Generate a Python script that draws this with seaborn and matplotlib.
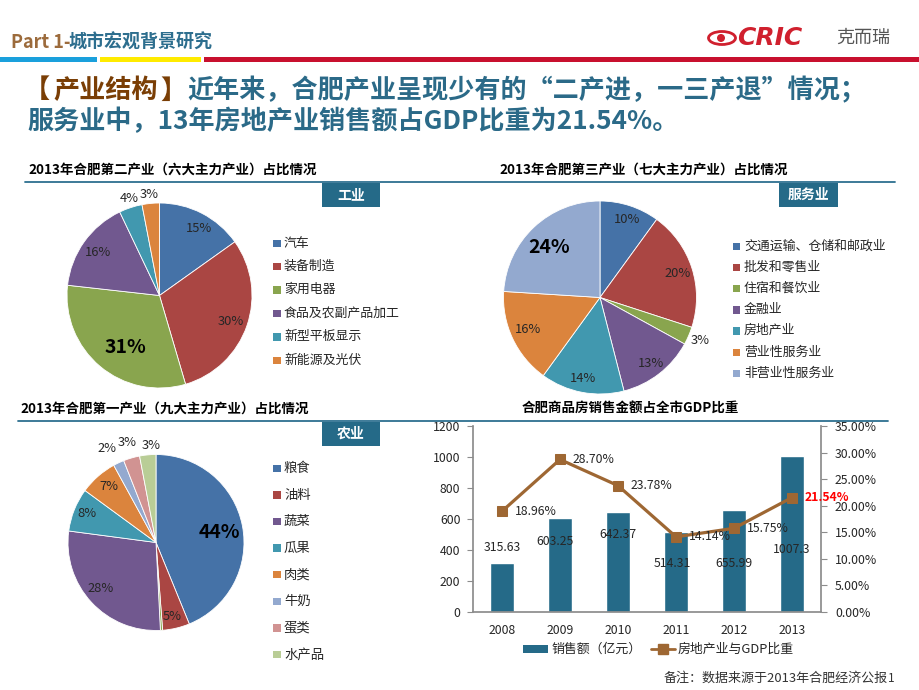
import matplotlib
matplotlib.use("Agg")
import matplotlib.pyplot as plt
from matplotlib.lines import Line2D
from matplotlib.patches import Ellipse, Rectangle
from matplotlib.ticker import PercentFormatter
import numpy as np
import pandas as pd
import seaborn as sns

W, H = 920, 690

# 第二产业（六大主力产业）
IND2_LABELS = ["汽车", "装备制造", "家用电器", "食品及农副产品加工", "新型平板显示", "新能源及光伏"]
IND2_VALUES = [15, 30, 31, 16, 4, 3]

# 第三产业（七大主力产业）
IND3_LABELS = ["交通运输、仓储和邮政业", "批发和零售业", "住宿和餐饮业", "金融业",
               "房地产业", "营业性服务业", "非营业性服务业"]
IND3_VALUES = [10, 20, 3, 13, 14, 16, 24]

# 第一产业 - the thin third slice has no legend entry and no label in the source
IND1_LABELS = ["粮食", "油料", "", "蔬菜", "瓜果", "肉类", "牛奶", "蛋类", "水产品"]
IND1_VALUES = [44, 5, 0.4, 28, 8, 7, 2, 3, 3]

# 合肥商品房销售金额占全市GDP比重
YEARS = ["2008", "2009", "2010", "2011", "2012", "2013"]
SALES = [315.63, 603.25, 642.37, 514.31, 655.99, 1007.3]
GDP_SHARE = [18.96, 28.70, 23.78, 14.14, 15.75, 21.54]

# label placement (pie radius units, relative to centre) - layout only
IND2_LABEL_POS = [(0.43, 0.72), (0.77, -0.28), (-0.37, -0.56), (-0.67, 0.46), (-0.33, 1.05), (-0.11, 1.09)]
IND3_LABEL_POS = [(0.28, 0.81), (0.80, 0.25), (1.04, -0.45), (0.53, -0.68), (-0.18, -0.84),
                  (-0.75, -0.33), (-0.53, 0.52)]
IND1_LABEL_POS = [(0.72, 0.11), (0.18, -0.84), None, (-0.63, -0.52), (-0.78, 0.33), (-0.53, 0.64),
                  (-0.56, 1.07), (-0.33, 1.14), (-0.05, 1.10)]
SALES_LABEL_Y = [413, 458, 503, 310, 310, 406]
SALES_LABEL_DX = [0, -0.09, 0, -0.07, 0, 0]

PALETTE = ["#4572A7", "#AA4643", "#89A54E", "#71588F", "#4198AF",
           "#DB843D", "#93A9CF", "#D19392", "#B9CD96"]
TEAL = "#2B6A88"
BOX = "#256A88"
LINE = "#9E6733"
GRAY = "#8C8C8C"
TXT = "#262626"


def fx(x):
    return x / W


def fy(y):
    return 1 - y / H


def add_rect(fig, x0, y0, x1, y1, color):
    fig.add_artist(Rectangle((fx(x0), fy(y1)), (x1 - x0) / W, (y1 - y0) / H,
                             transform=fig.transFigure, facecolor=color, edgecolor="none"))


def section_title(fig, x, y, text, ha="left"):
    fig.text(fx(x), fy(y), text, ha=ha, va="center", fontsize=9.7, fontweight="bold", color="black")


def tag(fig, x0, x1, y0, y1, text):
    add_rect(fig, x0, y0, x1, y1, BOX)
    fig.text(fx((x0 + x1) / 2), fy((y0 + y1) / 2), text, ha="center", va="center",
             fontsize=10, fontweight="bold", color="white")


def draw_pie(fig, cx, cy, r, values, label_pos):
    ax = fig.add_axes([fx(cx - r), fy(cy + r), 2 * r / W, 2 * r / H])
    ax.pie(values, colors=PALETTE[:len(values)], startangle=90, counterclock=False,
           wedgeprops={"edgecolor": "white", "linewidth": 0.6})
    ax.set_xlim(-1, 1)
    ax.set_ylim(-1, 1)
    ax.set_aspect("equal")
    ax.axis("off")
    big = int(np.argmax(values))
    for i, (v, pos) in enumerate(zip(values, label_pos)):
        if pos is None:
            continue
        if i == big:
            ax.text(pos[0], pos[1], f"{v:g}%", ha="center", va="center",
                    fontsize=14, fontweight="bold", color="black")
        else:
            ax.text(pos[0], pos[1], f"{v:g}%", ha="center", va="center",
                    fontsize=9.3, color=TXT)


def draw_legend(fig, x, y0, step, labels, size=9.3):
    k = 0
    for lab, col in zip(labels, PALETTE):
        if not lab:
            continue
        y = y0 + k * step
        add_rect(fig, x, y - 3.5, x + 7.5, y + 4, col)
        fig.text(fx(x + 11), fy(y), lab, ha="left", va="center", fontsize=size, color=TXT)
        k += 1


def main():
    sns.set_theme(style="white")
    plt.rcParams["font.family"] = ["Noto Sans CJK SC", "DejaVu Sans"]
    plt.rcParams["axes.unicode_minus"] = False

    fig = plt.figure(figsize=(W / 100, H / 100), dpi=100)
    fig.patch.set_facecolor("white")

    # header
    fig.text(fx(11), fy(42), "Part 1-", ha="left", va="center", fontsize=13,
             fontweight="bold", color="#9C6B3C")
    fig.text(fx(68), fy(42), "城市宏观背景研究", ha="left", va="center", fontsize=13,
             fontweight="bold", color="#2D6E8E")
    add_rect(fig, 0, 57, 97, 62, "#1AA0DC")
    add_rect(fig, 100, 57, 201, 62, "#FFEB00")
    add_rect(fig, 204, 57, 920, 62, "#C8102E")

    # logo
    fig.add_artist(Ellipse((fx(722), fy(38)), 27 / W, 13 / H, transform=fig.transFigure,
                           facecolor="none", edgecolor="#D0202E", linewidth=2))
    fig.add_artist(Ellipse((fx(721), fy(38)), 8 / W, 8 / H, transform=fig.transFigure,
                           facecolor="#D0202E", edgecolor="none"))
    fig.text(fx(737), fy(38), "CRIC", ha="left", va="center", fontsize=18, fontweight="heavy",
             style="italic", color="#D0202E", family="DejaVu Sans")
    fig.text(fx(836), fy(38), "克而瑞", ha="left", va="center", fontsize=13, color="#555555")

    # headline
    head = {"va": "center", "fontsize": 18.8, "fontweight": "bold"}
    fig.text(fx(24), fy(91), "【", ha="left", color="#7A3E05", **head)
    fig.text(fx(53), fy(91), "产业结构", ha="left", color="#7A3E05", **head)
    fig.text(fx(160), fy(91), "】", ha="left", color="#7A3E05", **head)
    fig.text(fx(187), fy(91), "近年来，合肥产业呈现少有的“二产进，一三产退”情况；",
             ha="left", color=TEAL, **head)
    fig.text(fx(27), fy(122), "服务业中，13年房地产业销售额占GDP比重为21.54%。",
             ha="left", color=TEAL, **head)

    # section rules
    fig.add_artist(Line2D([fx(25), fx(895)], [fy(182), fy(182)], transform=fig.transFigure,
                          color="#2D7090", linewidth=1.3))
    fig.add_artist(Line2D([fx(18), fx(888)], [fy(421), fy(421)], transform=fig.transFigure,
                          color="#2D7090", linewidth=1.3))

    # 第二产业
    section_title(fig, 28, 170, "2013年合肥第二产业（六大主力产业）占比情况")
    tag(fig, 322, 380, 183, 207, "工业")
    draw_pie(fig, 159.5, 295.5, 92.5, IND2_VALUES, IND2_LABEL_POS)
    draw_legend(fig, 273, 243, 23.4, IND2_LABELS)

    # 第三产业
    section_title(fig, 499, 170, "2013年合肥第三产业（七大主力产业）占比情况")
    tag(fig, 779, 838, 183, 207, "服务业")
    draw_pie(fig, 600, 297.5, 96.5, IND3_VALUES, IND3_LABEL_POS)
    draw_legend(fig, 733, 246, 21.2, IND3_LABELS)

    # 第一产业
    section_title(fig, 20, 409, "2013年合肥第一产业（九大主力产业）占比情况")
    tag(fig, 322, 380, 422, 446, "农业")
    draw_pie(fig, 156, 542.5, 88, IND1_VALUES, IND1_LABEL_POS)
    draw_legend(fig, 273, 468, 26.6, IND1_LABELS, size=9.6)

    # 商品房销售金额
    section_title(fig, 630, 409, "合肥商品房销售金额占全市GDP比重", ha="center")
    df = pd.DataFrame({"year": YEARS, "sales": SALES, "share": GDP_SHARE})
    axb = fig.add_axes([fx(473), fy(612), 348 / W, 186 / H])
    sns.barplot(data=df, x="year", y="sales", color=BOX, saturation=1, width=0.4, ax=axb)
    axb.set_xlabel("")
    axb.set_ylabel("")
    axb.set_ylim(0, 1200)
    axb.set_yticks(np.arange(0, 1201, 200))
    for i, (v, ly, dx) in enumerate(zip(SALES, SALES_LABEL_Y, SALES_LABEL_DX)):
        axb.text(i + dx, ly, f"{v:g}", ha="center", va="center", fontsize=8.8, color=TXT)

    ax2 = axb.twinx()
    sns.lineplot(x=np.arange(len(YEARS)), y=df["share"] / 100, ax=ax2, color=LINE,
                 linewidth=2.3, marker="s", markersize=7.5, markeredgecolor=LINE)
    ax2.set_ylim(0, 0.35)
    ax2.set_yticks(np.arange(0, 0.351, 0.05))
    ax2.yaxis.set_major_formatter(PercentFormatter(1, decimals=2))
    ax2.set_ylabel("")
    for i, p in enumerate(GDP_SHARE):
        last = i == len(GDP_SHARE) - 1
        ax2.annotate(f"{p:.2f}%", (i, p / 100), xytext=(13, 0), textcoords="offset pixels",
                     ha="left", va="center", fontsize=8.8,
                     color="#FF0000" if last else TXT, fontweight="bold" if last else "normal")

    axb.set_xlim(-0.5, 5.5)
    axb.set_xticks(np.arange(-0.5, 6), minor=True)
    axb.tick_params(axis="x", which="major", length=0, pad=9, labelsize=8.8, labelcolor=TXT)
    axb.tick_params(axis="x", which="minor", length=4, width=0.8, direction="out", color=GRAY)
    axb.tick_params(axis="y", length=4, width=0.8, direction="out", color=GRAY,
                    labelsize=8.8, labelcolor=TXT, pad=5)
    ax2.tick_params(axis="y", length=4, width=0.8, direction="out", color=GRAY,
                    labelsize=8.8, labelcolor=TXT, pad=6)
    for s in ["top", "right"]:
        axb.spines[s].set_visible(False)
    for s in ["left", "bottom"]:
        axb.spines[s].set_color(GRAY)
    for s in ["top", "left", "bottom"]:
        ax2.spines[s].set_visible(False)
    ax2.spines["right"].set_color(GRAY)

    # legend of the bar/line chart
    add_rect(fig, 523, 645, 548, 653, BOX)
    fig.text(fx(552), fy(649), "销售额（亿元）", ha="left", va="center", fontsize=9.3, color=TXT)
    fig.add_artist(Line2D([fx(651), fx(675)], [fy(649), fy(649)], transform=fig.transFigure,
                          color=LINE, linewidth=2))
    fig.add_artist(Line2D([fx(663)], [fy(649)], transform=fig.transFigure, color=LINE,
                          marker="s", markersize=7))
    fig.text(fx(678), fy(649), "房地产业与GDP比重", ha="left", va="center", fontsize=9.3, color=TXT)

    # footnote (page number sits right after it)
    fig.text(fx(664), fy(678), "备注：数据来源于2013年合肥经济公报", ha="left", va="center",
             fontsize=9.4, color="#333333")
    fig.text(fx(888), fy(678), "1", ha="left", va="center", fontsize=8.5, color="#333333")

    fig.savefig("out.png", dpi=100)
    plt.close(fig)


if __name__ == "__main__":
    main()
